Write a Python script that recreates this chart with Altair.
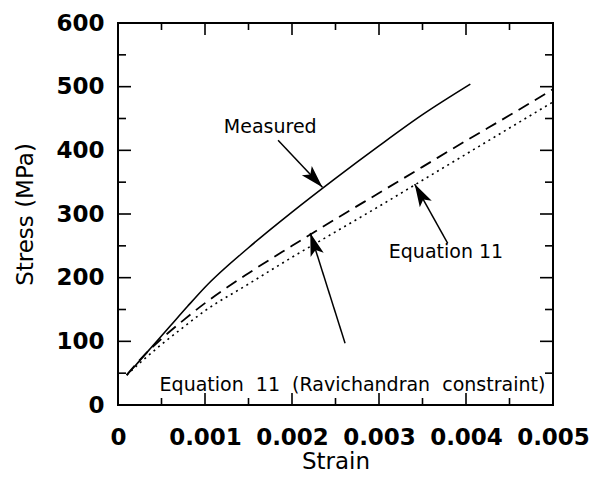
import math
import altair as alt
import pandas as pd

# ---- curves: strain (-) vs stress (MPa) ----
measured_strain = [0.0001, 0.0002, 0.0004, 0.0006, 0.0008, 0.0010, 0.0015, 0.0020,
                   0.0025, 0.0030, 0.0035, 0.00405]
measured_stress = [47, 62, 93, 124, 155, 185, 247, 303, 356, 407, 456, 504]

ravi_strain = [0.0001, 0.0003, 0.0005, 0.00075, 0.0010, 0.0015, 0.0020, 0.0025,
               0.0030, 0.0035, 0.0040, 0.0045, 0.0050]
ravi_stress = [47, 78, 104, 133, 160, 207, 250, 292, 333, 374, 415, 455, 496]

eq11_strain = [0.0001, 0.0003, 0.0005, 0.00075, 0.0010, 0.0015, 0.0020, 0.0025,
               0.0030, 0.0035, 0.0040, 0.0045, 0.0050]
eq11_stress = [47, 72, 95, 122, 148, 190, 232, 272, 312, 353, 394, 435, 476]

# ---- annotations ----
NB = "\u00a0"
ann_text = ["Measured",
            "Equation 11",
            "Equation" + NB * 2 + "11" + NB * 2 + "(Ravichandran" + NB * 2 + "constraint)"]
ann_strain = [0.00175, 0.00377, 0.002695]
ann_stress = [437, 240, 31]

arrow_from_strain = [0.00184, 0.00379, 0.00261]
arrow_from_stress = [416, 254, 97]
arrow_to_strain = [0.00235, 0.00341, 0.00221]
arrow_to_stress = [342, 347, 270]

# ---- axis ticks ----
x_major = [0.001, 0.002, 0.003, 0.004]
x_minor = [0.0005, 0.0015, 0.0025, 0.0035, 0.0045]
y_major = [100, 200, 300, 400, 500]
y_minor = [50, 150, 250, 350, 450, 550]
x_labels = [0, 0.001, 0.002, 0.003, 0.004, 0.005]
y_labels = [0, 100, 200, 300, 400, 500, 600]

W, H = 435, 382
X_MAX, Y_MAX = 0.005, 600
FONT = "DejaVu Sans"

xscale = alt.Scale(domain=[0, X_MAX], nice=False, zero=False)
yscale = alt.Scale(domain=[0, Y_MAX], nice=False, zero=False)

xaxis = alt.Axis(values=x_labels, title="Strain", ticks=False, domain=False, grid=False,
                 labelExpr="datum.value == 0 ? '0' : format(datum.value, '.3f')",
                 labelPadding=21, labelFont=FONT, labelFontSize=23, labelFontWeight="bold",
                 labelColor="black", labelFlush=False, labelOverlap=False,
                 titleFont=FONT, titleFontSize=23, titleFontWeight="normal", titleColor="black",
                 titleY=45, titleBaseline="top")
yaxis = alt.Axis(values=y_labels, title="Stress (MPa)", ticks=False, domain=False, grid=False,
                 format="d", labelPadding=14, labelFont=FONT, labelFontSize=23,
                 labelFontWeight="bold", labelColor="black", labelFlush=False,
                 labelOverlap=False, labelBaseline="middle",
                 titleFont=FONT, titleFontSize=23, titleFontWeight="normal", titleColor="black",
                 titleX=-81, titleY=H / 2, titleAngle=270, titleBaseline="bottom")


def X(field):
    return alt.X(f"{field}:Q", scale=xscale, axis=xaxis)


def Y(field):
    return alt.Y(f"{field}:Q", scale=yscale, axis=yaxis)


def curve(strain, stress, dash, width):
    df = pd.DataFrame({"strain": strain, "stress": stress})
    kw = dict(color="black", strokeWidth=width, interpolate="monotone")
    if dash:
        kw["strokeDash"] = dash
    return alt.Chart(df).mark_line(**kw).encode(x=X("strain"), y=Y("stress"))


measured = curve(measured_strain, measured_stress, None, 1.6)
ravi = curve(ravi_strain, ravi_stress, [12, 7], 1.8)
eq11 = curve(eq11_strain, eq11_stress, [2, 4], 1.6)

# tick marks drawn inside the frame on all four sides
def x_ticks(vals, length):
    df = pd.DataFrame({"v": vals})
    bottom = alt.Chart(df).mark_rule(color="black", strokeWidth=1.6).encode(
        x=X("v"), y=alt.value(H), y2=alt.value(H - length))
    top = alt.Chart(df).mark_rule(color="black", strokeWidth=1.6).encode(
        x=X("v"), y=alt.value(0), y2=alt.value(length))
    return [bottom, top]


def y_ticks(vals, length):
    df = pd.DataFrame({"v": vals})
    left = alt.Chart(df).mark_rule(color="black", strokeWidth=1.6).encode(
        y=Y("v"), x=alt.value(0), x2=alt.value(length))
    right = alt.Chart(df).mark_rule(color="black", strokeWidth=1.6).encode(
        y=Y("v"), x=alt.value(W), x2=alt.value(W - length))
    return [left, right]


ticks = x_ticks(x_major, 12) + x_ticks(x_minor, 7) + y_ticks(y_major, 13) + y_ticks(y_minor, 8)

# annotation labels
ann_df = pd.DataFrame({"label": ann_text, "strain": ann_strain, "stress": ann_stress})
labels = alt.Chart(ann_df).mark_text(font=FONT, fontSize=19, color="black",
                                     align="center", baseline="middle").encode(
    x=X("strain"), y=Y("stress"), text="label:N")

# arrows: shaft plus a filled head rotated along the shaft direction
angles = []
for x0, y0, x1, y1 in zip(arrow_from_strain, arrow_from_stress, arrow_to_strain, arrow_to_stress):
    dx = (x1 - x0) / X_MAX * W
    dy = -(y1 - y0) / Y_MAX * H
    angles.append(math.degrees(math.atan2(dx, -dy)) % 360)

arrow_df = pd.DataFrame({"x0": arrow_from_strain, "y0": arrow_from_stress,
                         "x1": arrow_to_strain, "y1": arrow_to_stress, "ang": angles})
shafts = alt.Chart(arrow_df).mark_rule(color="black", strokeWidth=1.5).encode(
    x=X("x0"), y=Y("y0"), x2="x1:Q", y2="y1:Q")
heads = alt.Chart(arrow_df).mark_point(
    shape="M0,0L-0.6,2L0,1.55L0.6,2Z", size=520, filled=True, opacity=1,
    color="black", strokeWidth=0).encode(
    x=X("x1"), y=Y("y1"), angle=alt.Angle("ang:Q", scale=None))

chart = alt.layer(measured, ravi, eq11, *ticks, shafts, heads, labels).properties(
    width=W, height=H,
    autosize=alt.AutoSizeParams(type="none"),
    padding={"left": 118, "top": 23, "right": 38, "bottom": 73},
    background="white",
).configure_view(stroke="black", strokeWidth=2)

chart.save("out.html", embed_options={"renderer": "svg", "actions": False})
